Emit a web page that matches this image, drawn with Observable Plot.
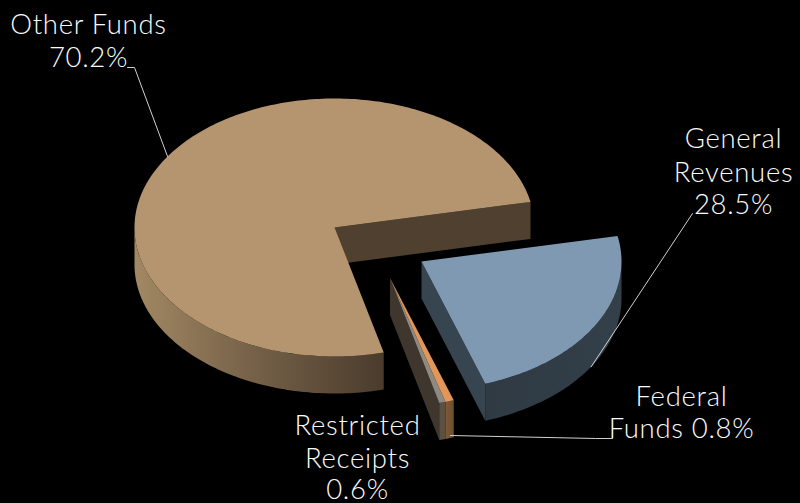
<!DOCTYPE html>
<html>
<head>
<meta charset="utf-8">
<script src="https://cdn.jsdelivr.net/npm/d3@7"></script>
<script src="https://cdn.jsdelivr.net/npm/@observablehq/plot@0.6"></script>
<style>
  html, body { margin: 0; padding: 0; background: #000; }
  svg { display: block; }
  .callout text { letter-spacing: 0.7px; }
</style>
</head>
<body>
<div id="chart"></div>
<script>
// Funding sources, in percent, counter-clockwise round the pie.
const categories = ["Other Funds", "Restricted Receipts", "Federal Funds", "General Revenues"];
const shares = [70.2, 0.6, 0.8, 28.5];

// Callout wording, one entry per printed line.
const calloutLines = [
  ["Other Funds", "70.2%"],
  ["Restricted", "Receipts", "0.6%"],
  ["Federal", "Funds 0.8%"],
  ["General", "Revenues", "28.5%"]
];

// Slice styling and where each exploded wedge sits in the view.
const topFills = ["#b5956f", "#8d8a84", "#e3965a", "#7f99b2"];
const apexes = [[334, 227], [389.5, 277.5], [389.5, 277.5], [421, 261]];
const radiusX = 200, radiusY = 129, depth = 37;

// View foreshortening of the disc, in degrees and radians.
const viewCentre = 327.85, viewSkew = 0.22;

const rad = Math.PI / 180;
const total = d3.sum(shares);

// Cumulative sweep of each slice, turned into on-screen ellipse angles.
const smallSweep = (shares[1] + shares[2] + shares[3]) / total * 360;
const toScreen = (u) => viewCentre + u - (viewSkew / rad) * Math.sin(u * rad);
let running = smallSweep / 2;
const slices = categories.map((name, i) => {
  const start = running;
  running += shares[i] / total * 360;
  const a0 = toScreen(start) % 360;
  let a1 = toScreen(running) % 360;
  if (a1 < a0) a1 += 360; // slice crosses the 0 degree line
  return {name, i, a0, a1, apex: apexes[i]};
});

const onRim = ([cx, cy], a, drop = 0) =>
  [cx + radiusX * Math.cos(a * rad), cy - radiusY * Math.sin(a * rad) + drop];
const arc = (apex, a0, a1, drop = 0) =>
  d3.range(0, 1.0001, 1 / Math.max(2, Math.ceil(Math.abs(a1 - a0))))
    .map((t) => onRim(apex, a0 + (a1 - a0) * t, drop));

const topFace = (s) => [s.apex, ...arc(s.apex, s.a0, s.a1)];
const rimWall = (s, a0, a1) => [...arc(s.apex, a0, a1), ...arc(s.apex, a0, a1, depth).reverse()];
const spokeWall = (apex, a) => {
  const p = onRim(apex, a);
  return [apex, p, [p[0], p[1] + depth], [apex[0], apex[1] + depth]];
};

const poly = (points, fill) =>
  Plot.line(points, {x: (d) => d[0], y: (d) => d[1], fill, stroke: "none", curve: "linear-closed"});

const [other, restricted, federal, general] = slices;

// Horizontal shading for the curved outer walls.
const gradients = () => {
  const defs = d3.create("svg:defs");
  const add = (id, stops) => {
    const g = defs.append("linearGradient").attr("id", id);
    stops.forEach(([o, c]) => g.append("stop").attr("offset", o).attr("stop-color", c));
  };
  add("otherWall", [[0, "#a28863"], [0.45, "#78634a"], [1, "#4a3b2c"]]);
  add("generalWall", [[0, "#2f3a43"], [1, "#333f49"]]);
  add("federalWall", [[0, "#7f5a35"], [1, "#6c4d30"]]);
  return defs.node();
};

// Leader lines end on the slice they describe.
const leaders = [
  [[127, 67], [134, 67], onRim(other.apex, 146.6)],
  [[692, 213], onRim(general.apex, 328, depth)],
  [[450, 435], [595, 438], [612, 438]]
];

// Baselines and centres for the callouts.
const calloutAnchors = [
  {x: 88, y: [33, 66]},
  {x: 357, y: [434, 467, 498]},
  {x: 681, y: [405, 437]},
  {x: 733, y: [147, 181, 213]}
];
const calloutRows = calloutLines.flatMap((lines, i) =>
  lines.map((text, j) => ({text, x: calloutAnchors[i].x, y: calloutAnchors[i].y[j]})));

const chart = Plot.plot({
  width: 800,
  height: 503,
  margin: 0,
  style: {background: "#000", overflow: "hidden"},
  x: {domain: [0, 800], range: [0, 800], axis: null},
  y: {domain: [0, 503], range: [0, 503], axis: null},
  marks: [
    gradients,
    // Large slice
    poly(rimWall(other, 180, other.a1), "url(#otherWall)"),
    poly(spokeWall(other.apex, other.a0), "#4f402f"),
    poly(topFace(other), topFills[0]),
    // General revenues
    poly(spokeWall(general.apex, general.a0), "#36454f"),
    poly(rimWall(general, general.a0, 360), "url(#generalWall)"),
    poly(topFace(general), topFills[3]),
    // Two thin slices
    poly(spokeWall(restricted.apex, restricted.a0), "#3f372e"),
    poly(rimWall(restricted, restricted.a0, restricted.a1), "#5c5043"),
    poly(rimWall(federal, federal.a0, federal.a1), "url(#federalWall)"),
    poly(topFace(restricted), topFills[1]),
    poly(topFace(federal), topFills[2]),
    // Callouts
    ...leaders.map((points) =>
      Plot.line(points, {x: (d) => d[0], y: (d) => d[1], stroke: "#d0d0d0", strokeWidth: 1})),
    Plot.text(calloutRows, {
      x: "x", y: "y", text: "text",
      fontFamily: "Lato", fontSize: 27.5, fontWeight: 300,
      fill: "#fbfbfb", lineAnchor: "bottom", className: "callout"
    })
  ]
});
document.getElementById("chart").appendChild(chart);
</script>
</body>
</html>
